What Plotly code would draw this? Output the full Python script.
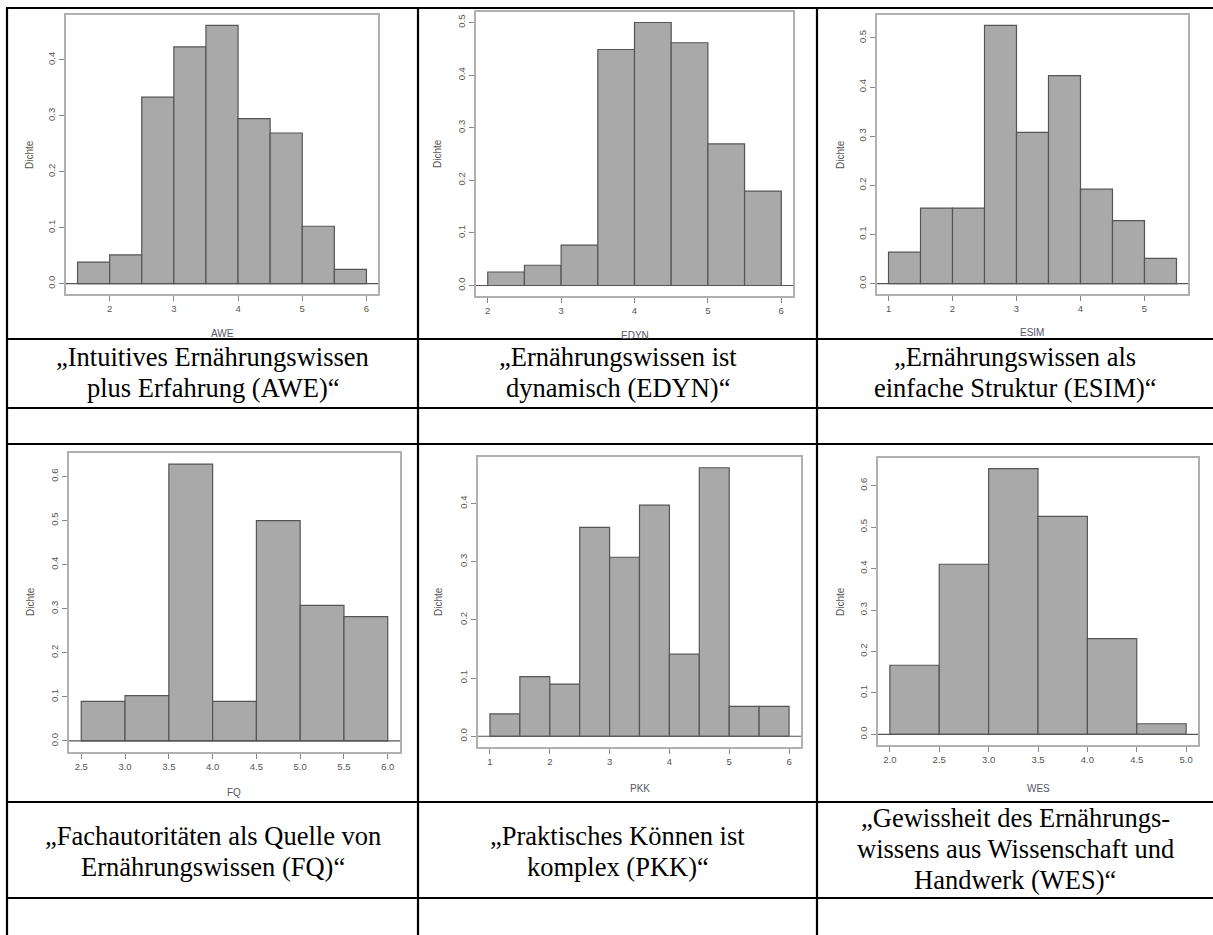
import plotly.graph_objects as go

# ---------------- data (density histograms, bin width 0.5) ----------------
awe_left = [1.5, 2.0, 2.5, 3.0, 3.5, 4.0, 4.5, 5.0, 5.5]
awe_density = [0.0385, 0.0513, 0.3333, 0.4231, 0.4615, 0.2949, 0.2692, 0.1026, 0.0256]

edyn_left = [2.0, 2.5, 3.0, 3.5, 4.0, 4.5, 5.0, 5.5]
edyn_density = [0.0256, 0.0385, 0.0769, 0.4487, 0.5000, 0.4615, 0.2692, 0.1795]

esim_left = [1.0, 1.5, 2.0, 2.5, 3.0, 3.5, 4.0, 4.5, 5.0]
esim_density = [0.0641, 0.1538, 0.1538, 0.5256, 0.3077, 0.4231, 0.1923, 0.1282, 0.0513]

fq_left = [2.5, 3.0, 3.5, 4.0, 4.5, 5.0, 5.5]
fq_density = [0.0897, 0.1026, 0.6282, 0.0897, 0.5000, 0.3077, 0.2821]

pkk_left = [1.0, 1.5, 2.0, 2.5, 3.0, 3.5, 4.0, 4.5, 5.0, 5.5]
pkk_density = [0.0385, 0.1026, 0.0897, 0.3590, 0.3077, 0.3974, 0.1410, 0.4615, 0.0513, 0.0513]

wes_left = [2.0, 2.5, 3.0, 3.5, 4.0, 4.5]
wes_density = [0.1667, 0.4103, 0.6410, 0.5256, 0.2308, 0.0256]

bin_width = 0.5

x_labels = ["AWE", "EDYN", "ESIM", "FQ", "PKK", "WES"]
y_label = "Dichte"

awe_xticks = ["2", "3", "4", "5", "6"]
edyn_xticks = ["2", "3", "4", "5", "6"]
esim_xticks = ["1", "2", "3", "4", "5"]
fq_xticks = ["2.5", "3.0", "3.5", "4.0", "4.5", "5.0", "5.5", "6.0"]
pkk_xticks = ["1", "2", "3", "4", "5", "6"]
wes_xticks = ["2.0", "2.5", "3.0", "3.5", "4.0", "4.5", "5.0"]

awe_yticks = ["0.0", "0.1", "0.2", "0.3", "0.4"]
edyn_yticks = ["0.0", "0.1", "0.2", "0.3", "0.4", "0.5"]
esim_yticks = ["0.0", "0.1", "0.2", "0.3", "0.4", "0.5"]
fq_yticks = ["0.0", "0.1", "0.2", "0.3", "0.4", "0.5", "0.6"]
pkk_yticks = ["0.0", "0.1", "0.2", "0.3", "0.4"]
wes_yticks = ["0.0", "0.1", "0.2", "0.3", "0.4", "0.5", "0.6"]

captions = [
    ["\u201eIntuitives Ernährungswissen", "plus Erfahrung (AWE)\u201c"],
    ["\u201eErnährungswissen ist", "dynamisch (EDYN)\u201c"],
    ["\u201eErnährungswissen als", "einfache Struktur (ESIM)\u201c"],
    ["\u201eFachautoritäten als Quelle von", "Ernährungswissen (FQ)\u201c"],
    ["\u201ePraktisches Können ist", "komplex (PKK)\u201c"],
    ["\u201eGewissheit des Ernährungs-", "wissens aus Wissenschaft und", "Handwerk (WES)\u201c"],
]

# ---------------- layout geometry (pixels) ----------------
W, H = 1213, 935
panels = [
    dict(left=awe_left, dens=awe_density, xt=awe_xticks, yt=awe_yticks, box=(66, 378, 15, 294), xlab=(222, 333), ylab=(29, 155)),
    dict(left=edyn_left, dens=edyn_density, xt=edyn_xticks, yt=edyn_yticks, box=(476, 793, 12, 296), xlab=(635, 335), ylab=(438, 154)),
    dict(left=esim_left, dens=esim_density, xt=esim_xticks, yt=esim_yticks, box=(877, 1188, 15, 294), xlab=(1032, 332), ylab=(840, 155)),
    dict(left=fq_left, dens=fq_density, xt=fq_xticks, yt=fq_yticks, box=(69, 400, 453, 752), xlab=(234, 792), ylab=(30, 602)),
    dict(left=pkk_left, dens=pkk_density, xt=pkk_xticks, yt=pkk_yticks, box=(478, 801, 457, 747), xlab=(640, 788), ylab=(438, 602)),
    dict(left=wes_left, dens=wes_density, xt=wes_xticks, yt=wes_yticks, box=(878, 1198, 458, 745), xlab=(1038, 788), ylab=(840, 602)),
]


def px(x):
    return x / W


def py(y):
    return 1 - y / H


fig = go.Figure()
shapes = []
annotations = []
axis_font = dict(family="Liberation Sans, Arial, sans-serif", size=9.5, color="#555555")
layout_axes = {}

for i, p in enumerate(panels):
    n = "" if i == 0 else str(i + 1)
    xa, ya = "x" + n, "y" + n
    lo = p["left"][0]
    hi = p["left"][-1] + bin_width
    ymax = max(p["dens"])
    xr = [lo - 0.04 * (hi - lo), hi + 0.04 * (hi - lo)]
    yr = [-0.04 * ymax, 1.04 * ymax]
    x0, x1, y0, y1 = p["box"]

    fig.add_trace(go.Bar(
        x=p["left"], y=p["dens"], width=bin_width, offset=0,
        marker=dict(color="#A9A9A9", line=dict(color="#555555", width=1.2)),
        xaxis=xa, yaxis=ya, showlegend=False, hoverinfo="skip"))

    xtv = [float(t) for t in p["xt"]]
    ytv = [float(t) for t in p["yt"]]
    layout_axes["xaxis" + n] = dict(
        domain=[px(x0), px(x1)], anchor=ya, range=xr, fixedrange=True,
        tickvals=xtv, ticktext=p["xt"], ticks="outside", ticklen=5, tickcolor="#888888",
        tickfont=axis_font, showline=True, linecolor="#B0B0B0", linewidth=1.5, mirror=True,
        showgrid=False, zeroline=False)
    layout_axes["yaxis" + n] = dict(
        domain=[py(y1), py(y0)], anchor=xa, range=yr, fixedrange=True,
        tickvals=ytv, ticktext=p["yt"], ticks="outside", ticklen=5, tickcolor="#888888",
        tickfont=axis_font, tickangle=-90, showline=True, linecolor="#B0B0B0", linewidth=1.5,
        mirror=True, showgrid=False, zeroline=False)

    # baseline at density 0 across plot box
    shapes.append(dict(type="line", xref=xa + " domain", yref=ya, x0=0, x1=1, y0=0, y1=0,
                       line=dict(color="#555555", width=1.2), layer="above"))

    annotations.append(dict(text=x_labels[i], x=px(p["xlab"][0]), y=py(p["xlab"][1]),
                            xref="paper", yref="paper", showarrow=False,
                            xanchor="center", yanchor="middle",
                            font=dict(family="Liberation Sans, Arial, sans-serif", size=10, color="#555566")))
    annotations.append(dict(text=y_label, x=px(p["ylab"][0]), y=py(p["ylab"][1]),
                            xref="paper", yref="paper", showarrow=False, textangle=-90,
                            xanchor="center", yanchor="middle",
                            font=dict(family="Liberation Sans, Arial, sans-serif", size=10, color="#555555")))

# ---------------- table grid ----------------
col_x = [7, 418, 817]
row_y = [8, 339, 408, 444, 802, 898]
for x in col_x:
    shapes.append(dict(type="line", xref="paper", yref="paper", x0=px(x), x1=px(x), y0=py(8), y1=py(H + 2),
                       line=dict(color="black", width=2.2), layer="above"))
for y in row_y:
    shapes.append(dict(type="line", xref="paper", yref="paper", x0=px(6), x1=px(W + 2), y0=py(y), y1=py(y),
                       line=dict(color="black", width=2.2), layer="above"))

# ---------------- captions ----------------
col_centers = [212.5, 617.5, 1015]
cap_font = dict(family="Liberation Serif, Times New Roman, serif", size=26.5, color="black")
caption_rows = [
    [357, 388],          # row 1 (two lines)
    [836, 867],          # row 2 (two lines)
    [818, 849, 880],     # row 2 (three lines)
]
for i, lines in enumerate(captions):
    cx = col_centers[i % 3]
    if i < 3:
        ys = caption_rows[0]
    elif len(lines) == 3:
        ys = caption_rows[2]
    else:
        ys = caption_rows[1]
    for line, y in zip(lines, ys):
        annotations.append(dict(text=line, x=px(cx), y=py(y), xref="paper", yref="paper",
                                showarrow=False, xanchor="center", yanchor="middle", font=cap_font))

fig.update_layout(
    width=W, height=H, autosize=False,
    margin=dict(l=0, r=0, t=0, b=0),
    paper_bgcolor="white", plot_bgcolor="white",
    shapes=shapes, annotations=annotations, showlegend=False,
    **layout_axes)

fig.write_html("out.html", config={"displayModeBar": False},
               post_script="document.body.style.margin='0';document.body.style.overflow='hidden';")
